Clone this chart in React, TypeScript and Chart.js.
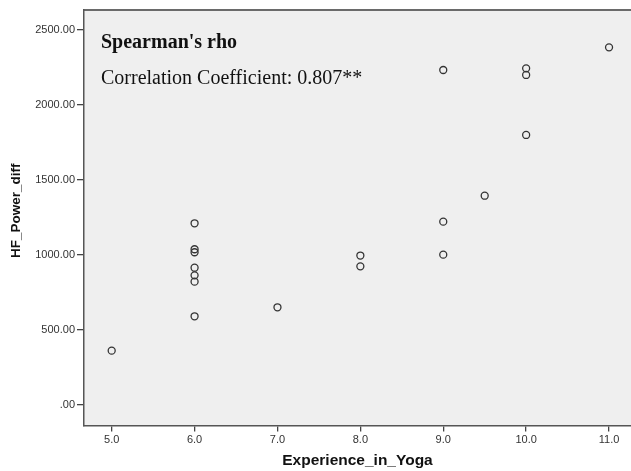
import React, { useEffect, useRef } from "react";
import { Chart, registerables } from "chart.js";

Chart.register(...registerables);

const experienceYears = [5, 6, 6, 6, 6, 6, 6, 6, 7, 8, 8, 9, 9, 9, 9.5, 10, 10, 10, 11];
const hfPowerDiff = [362, 1211, 1038, 1018, 915, 864, 822, 591, 651, 996, 924, 2233, 1222, 1002, 1395, 2244, 2200, 1800, 2384];
const xTickValues = [5, 6, 7, 8, 9, 10, 11];
const yTickValues = [0, 500, 1000, 1500, 2000, 2500];
const annotationTitle = "Spearman's rho";
const annotationText = "Correlation Coefficient: 0.807**";
const xAxisTitle = "Experience_in_Yoga";
const yAxisTitle = "HF_Power_diff";

export default function App() {
  const ref = useRef<HTMLCanvasElement | null>(null);
  useEffect(() => {
    if (!ref.current) return;
    const framePlugin = {
      id: "frame",
      beforeDraw(chart: any) {
        const { ctx, chartArea } = chart;
        ctx.save();
        ctx.fillStyle = "#efefef";
        ctx.fillRect(chartArea.left, chartArea.top, chartArea.right - chartArea.left, chartArea.bottom - chartArea.top);
        ctx.strokeStyle = "#6a6a6a";
        ctx.lineWidth = 2;
        ctx.beginPath();
        ctx.moveTo(chartArea.left, chartArea.top);
        ctx.lineTo(chartArea.right, chartArea.top);
        ctx.stroke();
        ctx.restore();
      },
      afterDatasetsDraw(chart: any) {
        const { ctx, chartArea } = chart;
        ctx.save();
        ctx.fillStyle = "#111";
        ctx.textBaseline = "middle";
        ctx.textAlign = "left";
        ctx.font = "bold 20px 'Liberation Serif', 'Times New Roman', serif";
        ctx.fillText(annotationTitle, chartArea.left + 17, chartArea.top + 33);
        ctx.font = "20px 'Liberation Serif', 'Times New Roman', serif";
        ctx.fillText(annotationText, chartArea.left + 17, chartArea.top + 69);
        // y axis title
        ctx.translate(16, (chartArea.top + chartArea.bottom) / 2 - 7);
        ctx.rotate(-Math.PI / 2);
        ctx.textAlign = "center";
        ctx.font = "bold 13.5px 'Liberation Sans', Arial, sans-serif";
        ctx.fillText(yAxisTitle, 0, 0);
        ctx.restore();
      },
    };
    const chart = new Chart(ref.current, {
      type: "scatter",
      data: {
        datasets: [
          {
            data: experienceYears.map((x, i) => ({ x, y: hfPowerDiff[i] })),
            pointStyle: "circle",
            pointRadius: 3.5,
            pointBorderWidth: 1.3,
            pointBackgroundColor: "rgba(0,0,0,0)",
            pointBorderColor: "#333",
            clip: false,
          },
        ],
      },
      options: {
        responsive: false,
        animation: false,
        devicePixelRatio: 1,
        layout: { autoPadding: false, padding: { top: 10, right: 0, left: 0, bottom: 0 } },
        plugins: { legend: { display: false }, tooltip: { enabled: false } },
        scales: {
          x: {
            type: "linear",
            min: 4.666,
            max: 11.265,
            afterBuildTicks: (s: any) => {
              s.ticks = xTickValues.map((v) => ({ value: v }));
            },
            afterFit: (s: any) => {
              s.height = 45.5;
              s.paddingLeft = 0;
              s.paddingRight = 0;
            },
            ticks: {
              color: "#333",
              font: { family: "'Liberation Sans', Arial, sans-serif", size: 11 },
              padding: 2,
              maxRotation: 0,
              callback: (v: any) => Number(v).toFixed(1),
            },
            grid: { drawOnChartArea: false, tickLength: 6, color: "#444", lineWidth: 1.3 },
            border: { color: "#555", width: 1.5 },
            title: {
              display: true,
              text: xAxisTitle,
              color: "#111",
              font: { family: "'Liberation Sans', Arial, sans-serif", size: 15.5, weight: "bold" },
              padding: { top: 2, bottom: 1 },
            },
          },
          y: {
            type: "linear",
            min: -137,
            max: 2633,
            afterBuildTicks: (s: any) => {
              s.ticks = yTickValues.map((v) => ({ value: v }));
            },
            afterFit: (s: any) => {
              s.width = 84;
            },
            ticks: {
              color: "#333",
              font: { family: "'Liberation Sans', Arial, sans-serif", size: 11 },
              padding: 2,
              callback: (v: any) => (Number(v) === 0 ? ".00" : Number(v).toFixed(2)),
            },
            grid: { drawOnChartArea: false, tickLength: 7, color: "#444", lineWidth: 1.3 },
            border: { color: "#555", width: 1.5 },
            title: { display: false },
          },
        },
      },
      plugins: [framePlugin],
    });
    return () => chart.destroy();
  }, []);
  return (
    <div style={{ position: "fixed", left: 0, top: 0, width: 631, height: 471, background: "#fff" }}>
      <canvas ref={ref} width={631} height={471} style={{ display: "block" }} />
    </div>
  );
}
